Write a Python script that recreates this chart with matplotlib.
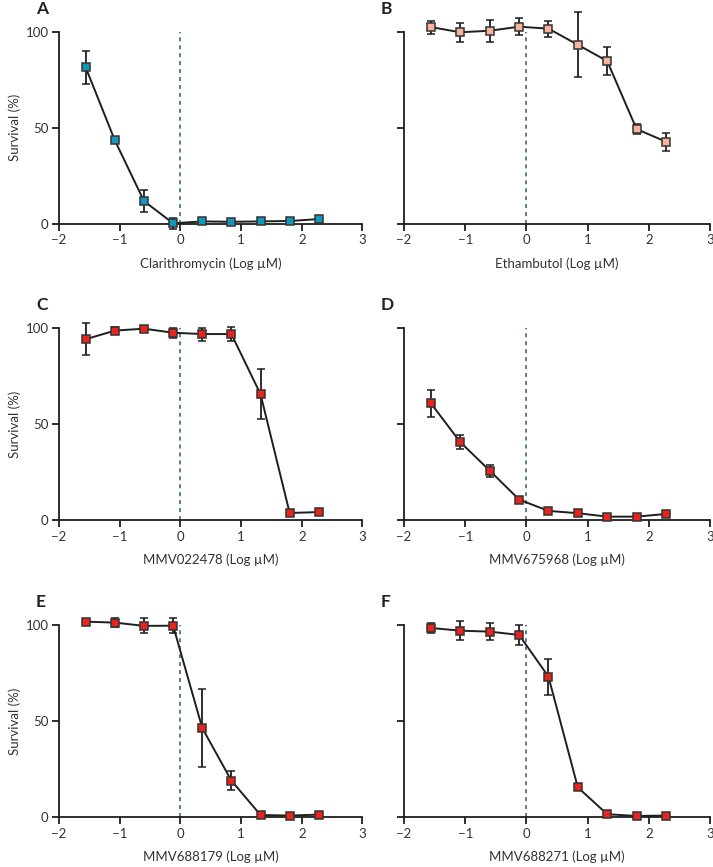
import matplotlib
matplotlib.use("Agg")
import matplotlib.pyplot as plt

plt.rcParams['font.family'] = ['Lato', 'DejaVu Sans']

log_conc = [-1.56, -1.08, -0.60, -0.12, 0.36, 0.84, 1.32, 1.80, 2.28]

panels = ["A", "B", "C", "D", "E", "F"]
xlabels = ["Clarithromycin (Log µM)", "Ethambutol (Log µM)", "MMV022478 (Log µM)",
           "MMV675968 (Log µM)", "MMV688179 (Log µM)", "MMV688271 (Log µM)"]

surv_A = [81.4, 43.4, 11.8, 0.2, 1.2, 1.0, 1.2, 1.4, 2.4]
err_A = [8.7, 1.5, 5.5, 3.0, 1.0, 1.0, 1.0, 1.0, 1.0]
surv_B = [102.4, 99.7, 100.5, 102.6, 101.6, 93.2, 84.7, 49.3, 42.7]
err_B = [3.4, 5.0, 5.8, 4.4, 4.2, 16.9, 7.2, 2.6, 4.7]
surv_C = [94.3, 98.8, 99.8, 97.7, 97.0, 97.0, 65.7, 3.8, 4.3]
err_C = [8.3, 2.0, 1.5, 2.7, 3.4, 3.6, 13.0, 1.5, 1.0]
surv_D = [60.9, 40.7, 25.9, 10.8, 4.9, 3.7, 1.9, 1.9, 3.3]
err_D = [7.0, 3.8, 3.1, 1.0, 1.0, 1.0, 1.0, 1.0, 1.0]
surv_E = [101.9, 101.4, 99.7, 99.8, 46.5, 19.1, 1.2, 0.9, 1.4]
err_E = [1.5, 2.4, 3.9, 3.8, 20.5, 4.8, 1.0, 1.0, 1.0]
surv_F = [98.6, 97.2, 96.7, 95.0, 73.3, 15.6, 1.6, 0.7, 0.9]
err_F = [2.8, 5.1, 4.3, 5.2, 9.4, 1.0, 1.0, 1.0, 1.0]

survs = [surv_A, surv_B, surv_C, surv_D, surv_E, surv_F]
errs = [err_A, err_B, err_C, err_D, err_E, err_F]
colors = ["#1597bd", "#f7b39b", "#e8241d", "#e8241d", "#e8241d", "#e8241d"]

xticks = [-2, -1, 0, 1, 2, 3]
xticklabels = ["\u22122", "\u22121", "0", "1", "2", "3"]
yticks = [0, 50, 100]

fig = plt.figure(figsize=(7.13, 8.67), dpi=100)
W, H = 713.0, 867.0
lefts = [59, 404]
widths = [303.5, 306]
tops = [31.7, 328.3, 625.3]
height = 192

ink = "#1e1e1e"
for i in range(6):
    r, c = divmod(i, 2)
    ax = fig.add_axes([lefts[c] / W, 1 - (tops[r] + height) / H, widths[c] / W, height / H])
    ax.set_xlim(-2, 3)
    ax.set_ylim(0, 100)
    for s in ["top", "right"]:
        ax.spines[s].set_visible(False)
    for s in ["left", "bottom"]:
        ax.spines[s].set_linewidth(1.3)
        ax.spines[s].set_color(ink)
    ax.vlines(0, 0, 100, colors="#4f7483", linestyles=(0, (2.2, 2.2)), linewidth=1.3, zorder=1)
    ax.errorbar(log_conc, survs[i], yerr=errs[i], fmt='-s', color=ink, lw=1.4,
                ecolor=ink, elinewidth=1.3, capsize=2.8, capthick=1.3,
                markersize=5.2, markerfacecolor=colors[i], markeredgecolor="#333333",
                markeredgewidth=1.1, clip_on=False, zorder=3)
    ax.set_xticks(xticks)
    ax.set_xticklabels(xticklabels)
    ax.set_yticks(yticks)
    if c == 0:
        ax.set_yticklabels([str(v) for v in yticks])
        ax.set_ylabel("Survival (%)", fontsize=9.5, color="#333333", labelpad=3)
    else:
        ax.set_yticklabels([])
    ax.tick_params(direction='out', length=5, width=1.3, color=ink, labelsize=9.5,
                   labelcolor="#333333", pad=2.5)
    ax.set_xlabel(xlabels[i], fontsize=9.5, color="#333333", labelpad=8)
    ax.annotate(panels[i], xy=(0, 1), xycoords='axes fraction', xytext=(-23, 31),
                textcoords='offset pixels', ha='left', va='top', fontsize=12.5,
                fontweight='bold', color="#222222")

fig.savefig("out.png", dpi=100)
